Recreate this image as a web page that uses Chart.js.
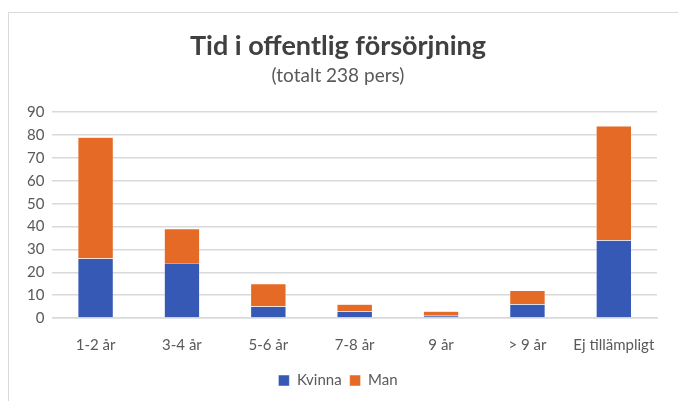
<!DOCTYPE html>
<html lang="sv">
<head>
    <meta charset="UTF-8">
    <title>Tid i offentlig försörjning</title>
    <style>
        body { margin: 0; background: #fff; }
        #frame { position: absolute; left: 8px; top: 12px; width: 680px; height: 400px; border: 1px solid #d9d9d9; }
        #wrap { position: absolute; left: 0; top: 0; width: 678px; height: 401px; }
    </style>
</head>
<body>
    <div id="frame"></div>
    <div id="wrap"><canvas id="myChart" width="678" height="401"></canvas></div>
    <script src="https://cdn.jsdelivr.net/npm/chart.js"></script>
    <script>
        const labels = ["1-2 år", "3-4 år", "5-6 år", "7-8 år", "9 år", "> 9 år", "Ej tillämpligt"];
        const kvinna = [26, 24, 5, 3, 1, 6, 34];
        const man = [53, 15, 10, 3, 2, 6, 50];

        const font = "Lato, 'Open Sans', sans-serif";
        const grey = "#595959";

        new Chart(document.getElementById("myChart"), {
            type: "bar",
            data: {
                labels,
                datasets: [
                    { label: "Kvinna", data: kvinna, backgroundColor: "#3559b5", borderColor: "#ffffff", borderWidth: 0.5 },
                    { label: "Man", data: man, backgroundColor: "#e46a26", borderColor: "#ffffff", borderWidth: 0.5 }
                ]
            },
            options: {
                responsive: false,
                animation: false,
                layout: { padding: { top: 20, left: 19, right: 21, bottom: 3 } },
                datasets: { bar: { categoryPercentage: 1, barPercentage: 0.41 } },
                plugins: {
                    title: {
                        display: true,
                        text: "Tid i offentlig försörjning",
                        color: "#404040",
                        font: { family: font, size: 27, weight: "bold" },
                        padding: { top: 10, bottom: 2 }
                    },
                    subtitle: {
                        display: true,
                        text: "(totalt 238 pers)",
                        color: grey,
                        font: { family: font, size: 19 },
                        padding: { top: 0, bottom: 25 }
                    },
                    legend: {
                        position: "bottom",
                        labels: {
                            color: grey,
                            font: { family: font, size: 15 },
                            boxWidth: 11, boxHeight: 11,
                            padding: 8
                        }
                    },
                    tooltip: { enabled: false }
                },
                scales: {
                    x: {
                        stacked: true,
                        grid: { display: false },
                        border: { color: "#d9d9d9", width: 1.5 },
                        ticks: { color: grey, font: { family: font, size: 15, lineHeight: 1 }, padding: 12, maxRotation: 0, autoSkip: false }
                    },
                    y: {
                        stacked: true,
                        min: 0, max: 90,
                        ticks: { stepSize: 10, color: grey, font: { family: font, size: 15 }, padding: 8, autoSkip: false },
                        grid: { color: "#d9d9d9", lineWidth: 1.5, drawTicks: false },
                        border: { display: false }
                    }
                }
            }
        });
    </script>
</body>
</html>
